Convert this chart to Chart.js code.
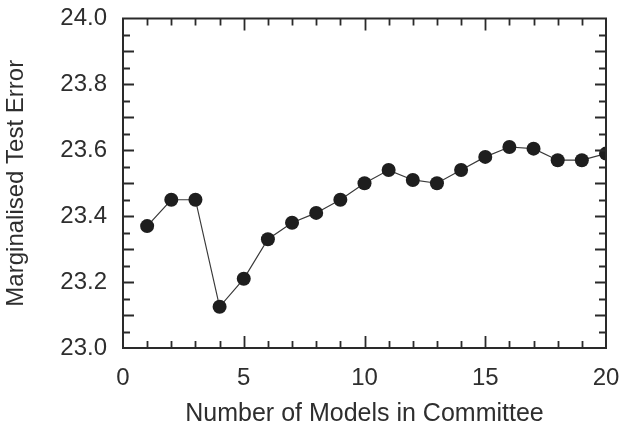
<!DOCTYPE html>
<html>
<head>
<meta charset="utf-8">
<script src="https://cdn.jsdelivr.net/npm/chart.js@4/dist/chart.umd.min.js"></script>
<style>
  html, body { margin: 0; padding: 0; background: #ffffff; }
  #wrap { width: 623px; height: 430px; position: relative; }
</style>
</head>
<body>
<div id="wrap"><canvas id="c" width="623" height="430"></canvas></div>
<script>
// Committee size and the marginalised test error measured for each size
const committeeSizes = [1, 2, 3, 4, 5, 6, 7, 8, 9, 10, 11, 12, 13, 14, 15, 16, 17, 18, 19, 20];
const testError = [23.37, 23.45, 23.45, 23.125, 23.21, 23.33, 23.38, 23.41, 23.45, 23.50,
                   23.54, 23.51, 23.50, 23.54, 23.58, 23.61, 23.605, 23.57, 23.57, 23.59];

// Axis ranges and tick spacing
const xRange = [0, 20];
const yRange = [23.0, 24.0];
const xLabelStep = 5;
const yLabelStep = 0.2;
const xMinorStep = 1;      // short ticks
const xMajorStep = 5;      // long ticks
const yMinorStep = 0.05;
const yMajorStep = 0.1;

const xTitle = 'Number of Models in Committee';
const yTitle = 'Marginalised Test Error';

const ink = '#2a2a2a';
const FONT = '"Liberation Sans", Arial, Helvetica, sans-serif';

// Frame around the plot with inward ticks on all four sides
const framePlugin = {
  id: 'frame',
  afterDatasetsDraw(chart) {
    const { ctx, chartArea: a, scales } = chart;
    const xs = scales.x, ys = scales.y;
    ctx.save();
    ctx.strokeStyle = ink;
    ctx.lineWidth = 2;
    ctx.lineCap = 'butt';
    ctx.strokeRect(a.left, a.top, a.right - a.left, a.bottom - a.top);
    ctx.lineWidth = 1.8;
    ctx.beginPath();
    const nx = Math.round((xRange[1] - xRange[0]) / xMinorStep);
    for (let i = 1; i < nx; i++) {
      const v = xRange[0] + i * xMinorStep;
      const major = Math.abs(v / xMajorStep - Math.round(v / xMajorStep)) < 1e-6;
      const len = major ? 12 : 7;
      const px = Math.round(xs.getPixelForValue(v)) + 0.5;
      ctx.moveTo(px, a.bottom); ctx.lineTo(px, a.bottom - len);
      ctx.moveTo(px, a.top); ctx.lineTo(px, a.top + len);
    }
    const ny = Math.round((yRange[1] - yRange[0]) / yMinorStep);
    for (let i = 1; i < ny; i++) {
      const v = yRange[0] + i * yMinorStep;
      const major = (i % Math.round(yMajorStep / yMinorStep)) === 0;
      const len = major ? 11 : 7;
      const py = Math.round(ys.getPixelForValue(v)) + 0.5;
      ctx.moveTo(a.left, py); ctx.lineTo(a.left + len, py);
      ctx.moveTo(a.right, py); ctx.lineTo(a.right - len, py);
    }
    ctx.stroke();
    ctx.restore();
  }
};

new Chart(document.getElementById('c'), {
  type: 'line',
  data: {
    datasets: [{
      data: committeeSizes.map((n, i) => ({ x: n, y: testError[i] })),
      borderColor: '#3a3a3a',
      borderWidth: 1.2,
      pointRadius: 7,
      pointBackgroundColor: '#1e1e1e',
      pointBorderColor: '#1e1e1e',
      pointBorderWidth: 0,
      tension: 0,
      fill: false
    }]
  },
  options: {
    responsive: false,
    animation: false,
    events: [],
    layout: { padding: { top: 18.5, right: 17, left: 0, bottom: 0 } },
    plugins: { legend: { display: false }, tooltip: { enabled: false } },
    scales: {
      x: {
        type: 'linear',
        min: xRange[0], max: xRange[1],
        grid: { display: false, drawTicks: false },
        border: { display: false },
        ticks: {
          stepSize: xLabelStep,
          padding: 16,
          color: '#2e2e2e',
          font: { family: FONT, size: 24 },
          maxRotation: 0
        },
        title: {
          display: true, text: xTitle, color: '#2e2e2e',
          font: { family: FONT, size: 25 },
          padding: { top: 0, bottom: 1 }
        },
        afterFit(scale) {
          scale.height = 82;
          scale.paddingLeft = 0;
          scale.paddingRight = 0;
        }
      },
      y: {
        type: 'linear',
        min: yRange[0], max: yRange[1],
        grid: { display: false, drawTicks: false },
        border: { display: false },
        ticks: {
          stepSize: yLabelStep,
          padding: 16,
          color: '#2e2e2e',
          font: { family: FONT, size: 24 },
          callback: v => Number(v).toFixed(1)
        },
        title: {
          display: true, text: yTitle, color: '#2e2e2e',
          font: { family: FONT, size: 24 },
          padding: { top: 2, bottom: 0 }
        },
        afterFit(scale) {
          scale.width = 123;
          scale.paddingTop = 0;
          scale.paddingBottom = 0;
        }
      }
    }
  },
  plugins: [framePlugin]
});
</script>
</body>
</html>
